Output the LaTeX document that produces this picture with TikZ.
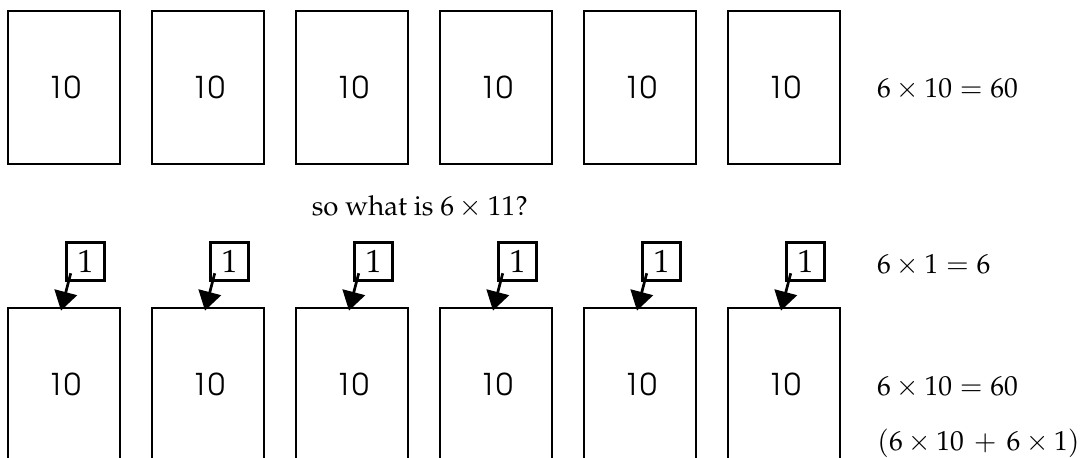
\documentclass[tikz,border=0pt]{standalone}
\usepackage[T1]{fontenc}
\usepackage{mathpazo}
\usepackage{tikz}
\usetikzlibrary{arrows.meta,positioning}
\newcommand{\gothicfont}{\fontfamily{pag}\selectfont}

\begin{document}
\begin{tikzpicture}[x=1pt,y=-1pt,
card/.style={draw,line width=2.8pt,minimum width=112pt,minimum height=153pt,inner sep=0pt,font=\gothicfont\fontsize{30}{32}\selectfont},
onebox/.style={draw,line width=2.5pt,minimum width=38pt,minimum height=38pt,inner sep=0pt,font=\fontsize{32}{34}\selectfont},
sum/.style={anchor=base west,inner sep=0pt,font=\fontsize{27.5}{30}\selectfont},
>={Triangle[length=19pt,width=23pt]}]
\useasboundingbox(0,0)rectangle(1080,458);
\clip(0,0)rectangle(1080,458);
% six cards of ten, then the same with one more each
\foreach \i in {1,...,6}{
\node[card](t\i)at({64+144*(\i-1)},87.5){10};
\node[card](b\i)at({64+144*(\i-1)},384.5){10};
\node[onebox](s\i)at({85.5+144*(\i-1)},261.5){$1$};
\draw[->,line width=2.7pt]([xshift=5.5pt,yshift=8.5pt]s\i.south west)--([xshift=-3pt,yshift=-4pt]b\i.north);
}
\node[sum](e1)at(877,97.5){$6\times10=60$};
\node[font=\fontsize{27.5}{30}\selectfont](q)at(420,207){so what is $6\times11?$};
\node[sum](e2)at(877,273){$6\times1=6$};
\node[sum](e3)at(877,395){$6\times10=60$};
\node[sum](e4)at(877,450){$(6\times10\,+\,6\times1)$};
\end{tikzpicture}
\end{document}
